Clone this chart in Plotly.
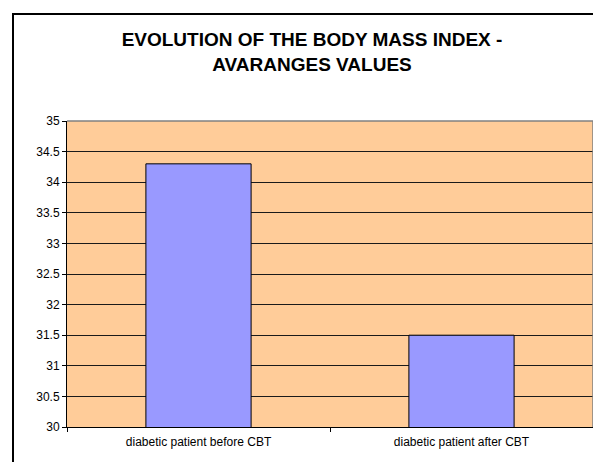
import plotly.graph_objects as go

categories = ["diabetic patient before CBT", "diabetic patient after CBT"]
bmi_values = [34.3, 31.5]
y_ticks = [30, 30.5, 31, 31.5, 32, 32.5, 33, 33.5, 34, 34.5, 35]
y_tick_labels = ["30", "30.5", "31", "31.5", "32", "32.5", "33", "33.5", "34", "34.5", "35"]

# page body has an 8px margin, so the figure starts at (8, 8) on screen
OFF = 8
W, H = 601 - OFF, 462 - OFF
L, R, T, B = 67 - OFF, 8, 121 - OFF, 35
pw, ph = W - L - R, H - T - B

def px_x(sx):
    return (sx - OFF - L) / pw

def px_y(sy):
    return (H - B - (sy - OFF)) / ph

fig = go.Figure()
fig.add_trace(go.Bar(
    x=categories, y=bmi_values,
    marker=dict(color="#9999FF", line=dict(color="#000000", width=1)),
    hoverinfo="x+y",
))

font = "Arial, 'Liberation Sans', sans-serif"
fig.update_layout(
    width=W, height=H,
    margin=dict(l=L, r=R, t=T, b=B, pad=0),
    paper_bgcolor="white",
    plot_bgcolor="#FFCC99",
    bargap=0.6,
    showlegend=False,
    title=dict(
        text="<b>EVOLUTION OF THE BODY MASS INDEX -<br>AVARANGES VALUES</b>",
        font=dict(family=font, size=19, color="#000000"),
        xref="container", yref="container",
        x=304 / W, xanchor="center",
        y=1 - 38 / H, yanchor="top",
    ),
    font=dict(family=font, size=12, color="#000000"),
)
fig.update_yaxes(
    range=[30, 35], tickvals=y_ticks, ticktext=y_tick_labels,
    showgrid=True, gridcolor="#1a1a1a", gridwidth=1,
    showline=True, linecolor="#000000", linewidth=1,
    ticks="outside", ticklen=4, tickcolor="#000000",
    zeroline=False, fixedrange=True,
    tickfont=dict(family=font, size=12, color="#000000"),
)
fig.update_xaxes(
    showline=True, linecolor="#000000", linewidth=1,
    ticks="outside", ticklen=4, tickcolor="#000000", tickson="boundaries",
    showgrid=False, fixedrange=True, ticklabelstandoff=4,
    tickfont=dict(family=font, size=12, color="#000000"),
)
# plot-area border on top and right (grey)
fig.add_shape(type="line", xref="paper", yref="paper", x0=0, x1=1, y0=1, y1=1,
              line=dict(color="#808080", width=1.5), layer="above")
fig.add_shape(type="line", xref="paper", yref="paper", x0=1, x1=1, y0=0, y1=1,
              line=dict(color="#808080", width=1.5), layer="above")
# outer chart frame (left and top edges)
fig.add_shape(type="line", xref="paper", yref="paper",
              x0=px_x(13), x1=px_x(13), y0=px_y(470), y1=px_y(13),
              line=dict(color="#000000", width=2), layer="above")
fig.add_shape(type="line", xref="paper", yref="paper",
              x0=px_x(12), x1=px_x(600), y0=px_y(14), y1=px_y(14),
              line=dict(color="#000000", width=2), layer="above")

fig.write_html("out.html")
